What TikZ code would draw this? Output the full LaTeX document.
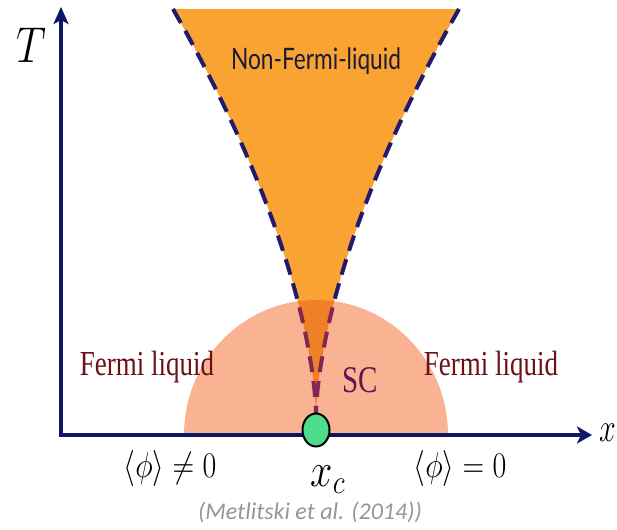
\RequirePackage{fix-cm}
\documentclass[tikz,border=0pt]{standalone}
\usepackage{fontspec}
\setmainfont{Liberation Serif}
\newfontfamily\nflfont{Lato}
\newfontfamily\capfont{Carlito}
\usetikzlibrary{arrows.meta,shapes.geometric}
\definecolor{axisnavy}{RGB}{14,22,104}
\definecolor{dashnavy}{RGB}{34,26,110}
\definecolor{coneorange}{RGB}{248,163,50}
\definecolor{conedark}{RGB}{240,128,38}
\definecolor{salmon}{RGB}{249,178,146}
\definecolor{dashmaroon}{RGB}{128,40,82}
\definecolor{qcpgreen}{RGB}{76,221,139}
\definecolor{flred}{RGB}{110,16,22}
\definecolor{scpurple}{RGB}{92,20,82}
\definecolor{nfltext}{RGB}{28,26,52}
\definecolor{capgray}{RGB}{150,150,150}
\begin{document}
\begin{tikzpicture}[x=1pt,y=-1pt,
  axisline/.style={draw=axisnavy,line width=4.5pt,line join=miter},
  boundary/.style={line width=4pt,dash pattern=on 16pt off 9pt},
  phaselabel/.style={inner sep=0pt,yscale=1.3},
  mathlabel/.style={inner sep=0pt,yscale=1.2}]
\useasboundingbox (0,0) rectangle (617,529);
\fill[white] (0,0) rectangle (617,529);
% cone
\fill[coneorange] plot[domain=1:0.0001,samples=50] ({316-143*(\x)^1.62},{415-406*\x}) -- plot[domain=0.0001:1,samples=50] ({316+143*(\x)^1.62},{415-406*\x}) -- cycle;
\draw[boundary,dashnavy] plot[domain=1:0.0001,samples=50] ({316-143*(\x)^1.62},{415-406*\x});
\draw[boundary,dashnavy] plot[domain=1:0.0001,samples=50] ({316+143*(\x)^1.62},{415-406*\x});
% SC dome
\begin{scope}
  \clip (0,0) rectangle (617,435);
  \fill[salmon] (316,435) ellipse [x radius=132, y radius=135];
  \clip (316,435) ellipse [x radius=132, y radius=135];
  \fill[conedark] plot[domain=1:0.0001,samples=50] ({316-143*(\x)^1.62},{415-406*\x}) -- plot[domain=0.0001:1,samples=50] ({316+143*(\x)^1.62},{415-406*\x}) -- cycle;
  \draw[boundary,dashmaroon] plot[domain=1:0.0001,samples=50] ({316-143*(\x)^1.62},{415-406*\x});
  \draw[boundary,dashmaroon] plot[domain=1:0.0001,samples=50] ({316+143*(\x)^1.62},{415-406*\x});
\end{scope}
% axes
\coordinate (O) at (61,435);
\coordinate (Ttip) at (61,7);
\coordinate (Xtip) at (592,435);
\draw[axisline,{Stealth[length=17pt,width=15pt,inset=4pt]}-{Stealth[length=15pt,width=17pt,inset=4pt]}] (Ttip) -- (O) -- (Xtip);
% critical point
\node[draw=black,line width=2pt,fill=qcpgreen,ellipse,minimum width=27pt,minimum height=33pt,inner sep=0pt] (xc) at (316,430) {};
% labels
\node[mathlabel,font=\fontsize{42}{42}\selectfont] (Tlab) at (31,45) {$T$};
\node[inner sep=0pt,yscale=1.35,font=\fontsize{30}{30}\selectfont,anchor=west] (xlab) at (599,433) {$x$};
\node[phaselabel,text=nfltext,font=\nflfont\fontsize{22.7}{22.7}\selectfont] (nfl) at (316,61) {Non-Fermi-liquid};
\node[phaselabel,text=flred,font=\fontsize{27}{27}\selectfont] (flL) at (147,367) {Fermi liquid};
\node[phaselabel,text=flred,font=\fontsize{27}{27}\selectfont] (flR) at (491,367) {Fermi liquid};
\node[phaselabel,text=scpurple,font=\fontsize{29}{29}\selectfont] (sc) at (360,380) {SC};
\node[mathlabel,font=\fontsize{30}{30}\selectfont] (phineq) at (170,468) {$\langle\phi\rangle\neq0$};
\node[mathlabel,font=\fontsize{30}{30}\selectfont] (phieq) at (460,468) {$\langle\phi\rangle=0$};
\node[mathlabel,font=\fontsize{40}{40}\selectfont] (xclab) at (328,480) {$x_c$};
\node[inner sep=0pt,text=capgray,font=\capfont\itshape\fontsize{24}{24}\selectfont] (cap) at (310,512) {(Metlitski et al. (2014))};
\end{tikzpicture}
\end{document}
